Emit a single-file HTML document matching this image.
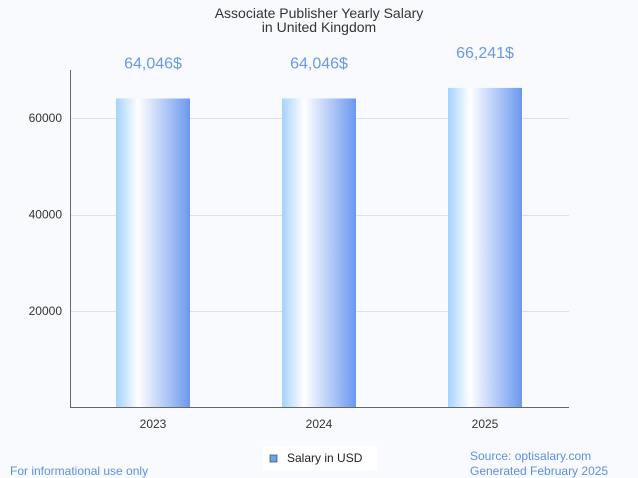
<!DOCTYPE html>
<html><head><meta charset="utf-8"><style>
body{margin:0;background:#f9fafd;font-family:"Liberation Sans",sans-serif;}
</style></head><body>
<svg width="638" height="478" style="display:block">
<defs><linearGradient id="g" x1="0" x2="1" y1="0" y2="0">
<stop offset="0" stop-color="#a6d2fc"/><stop offset="0.3" stop-color="#ffffff"/><stop offset="1" stop-color="#6b98ee"/></linearGradient></defs>
<rect width="638" height="478" fill="#f9fafd"/>
<text x="319" y="18" text-anchor="middle" font-size="14" fill="#333">Associate Publisher Yearly Salary</text>
<text x="319" y="32" text-anchor="middle" font-size="14" fill="#333">in United Kingdom</text>
<g id="grid"></g><g id="bars"></g>
<line x1="70.5" y1="70" x2="70.5" y2="408" stroke="#666"/>
<line x1="70" y1="407.5" x2="569" y2="407.5" stroke="#666"/>
<rect x="263" y="446" width="114" height="24" fill="#fff"/>
<rect x="270" y="455" width="7" height="7" fill="#64a6f0" stroke="#555" stroke-width="0.8"/>
<text x="287" y="462" font-size="12" fill="#222">Salary in USD</text>
<text x="10" y="475" font-size="12" fill="#5b8fe6">For informational use only</text>
<text x="470" y="460" font-size="12" fill="#5b8fe6">Source: optisalary.com</text>
<text x="470" y="475" font-size="12" fill="#5b8fe6">Generated February 2025</text>
</svg>
<script>
const categories=["2023","2024","2025"];
const values=[64046,64046,66241];
const labels=["64,046$","64,046$","66,241$"];
const ticks=[20000,40000,60000];
const NS="http://www.w3.org/2000/svg";
const y=v=>407.5-v*0.004825;
const x=i=>116+i*166;
const grid=document.getElementById("grid"),bars=document.getElementById("bars");
function mk(t,a,p){const e=document.createElementNS(NS,t);for(const k in a)e.setAttribute(k,a[k]);p.appendChild(e);return e;}
ticks.forEach(t=>{
 const l=mk("line",{x1:70,x2:569,y1:Math.round(y(t))+0.5,y2:Math.round(y(t))+0.5,stroke:"#e0e0e0"},grid);
 
 
 const tx=mk("text",{x:62,y:y(t)+4,"text-anchor":"end","font-size":12,fill:"#333"},grid);
 tx.textContent=t;
 
 
});
categories.forEach((c,i)=>{
 const r=mk("rect",{x:x(i),y:y(values[i]),width:74,height:407.5-y(values[i]),fill:"url(#g)"},bars);
 
 
 const v=mk("text",{x:x(i)+37,y:y(values[i])-30,"text-anchor":"middle","font-size":16,fill:"#6b98e8"},bars);
 v.textContent=labels[i];
 
 
 const t=mk("text",{x:x(i)+37,y:428,"text-anchor":"middle","font-size":12,fill:"#333"},bars);
 t.textContent=c;
 
 
});
</script>
</body></html>
